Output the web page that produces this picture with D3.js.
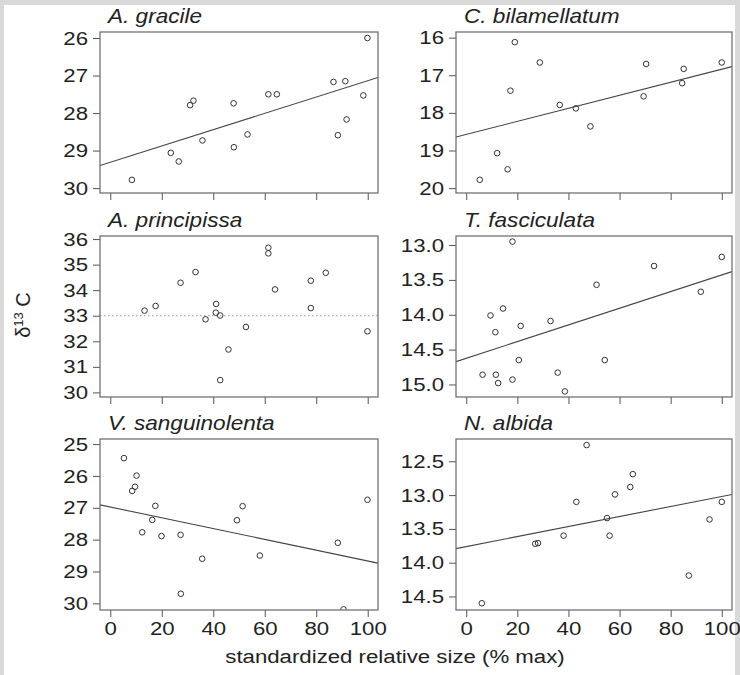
<!DOCTYPE html>
<html>
<head>
<meta charset="utf-8">
<script src="https://cdn.jsdelivr.net/npm/d3@7"></script>
<style>
  body { margin: 0; background: #d9d9d9; }
  svg { display: block; }
  text { font-family: "Liberation Sans", Arial, Helvetica, sans-serif; fill: #222; }
</style>
</head>
<body>
<svg width="740" height="675"></svg>
<script>
// species shown in each panel (row by row)
var species = ["A. gracile", "C. bilamellatum", "A. principissa", "T. fasciculata", "V. sanguinolenta", "N. albida"];

// standardized relative size (% max) and d13C per species
var graSize = [8.4, 23.5, 26.6, 31.0, 32.3, 35.8, 47.9, 48.0, 53.3, 61.4, 64.7, 86.7, 91.3, 88.4, 91.8, 98.3, 99.9];
var graD13 = [29.78, 29.06, 29.29, 27.79, 27.67, 28.73, 27.74, 28.91, 28.57, 27.50, 27.50, 27.17, 27.15, 28.59, 28.17, 27.53, 26.0];

var bilSize = [5.3, 12.1, 16.2, 17.3, 19.0, 28.8, 36.6, 42.9, 48.6, 69.4, 70.4, 85.1, 84.5, 100];
var bilD13 = [19.78, 19.07, 19.50, 17.41, 16.12, 16.66, 17.79, 17.88, 18.36, 17.56, 16.70, 16.83, 17.21, 16.66];

var priSize = [13.3, 17.6, 27.3, 33.1, 37.0, 41.1, 41.0, 42.7, 45.9, 42.7, 52.7, 61.4, 61.4, 64.0, 77.9, 83.7, 77.9, 99.9];
var priD13 = [33.20, 33.38, 34.29, 34.71, 32.86, 33.46, 33.12, 33.01, 31.68, 30.48, 32.56, 35.66, 35.44, 34.03, 34.37, 34.68, 33.30, 32.39];

var fasSize = [6.4, 9.5, 11.6, 11.4, 12.5, 14.4, 18.1, 18.1, 21.3, 20.6, 33.0, 35.8, 38.6, 51.0, 54.2, 73.5, 91.8, 100];
var fasD13 = [14.86, 14.01, 14.86, 14.25, 14.98, 13.91, 12.95, 14.93, 14.16, 14.65, 14.09, 14.83, 15.10, 13.57, 14.65, 13.30, 13.67, 13.17];

var sanSize = [5.3, 10.2, 9.6, 8.5, 17.5, 16.3, 12.4, 19.9, 27.3, 35.7, 27.4, 49.2, 51.4, 58.1, 88.4, 90.6, 99.9];
var sanD13 = [25.44, 25.99, 26.34, 26.47, 26.94, 27.38, 27.77, 27.89, 27.85, 28.60, 29.70, 27.39, 26.95, 28.50, 28.10, 30.19, 26.75];

var albSize = [6.1, 27.0, 28.1, 38.1, 43.1, 47.1, 55.1, 56.1, 58.2, 64.2, 65.2, 87.1, 95.2, 100];
var albD13 = [14.60, 13.72, 13.71, 13.60, 13.10, 12.26, 13.34, 13.60, 12.99, 12.88, 12.69, 14.19, 13.36, 13.10];

var sizes = [graSize, bilSize, priSize, fasSize, sanSize, albSize];
var d13s = [graD13, bilD13, priD13, fasD13, sanD13, albD13];

// fitted lines (null = no fit, dotted reference instead)
var fitIntercept = [29.31, 18.574, null, 14.625, 26.976, 13.762];
var fitSlope = [-0.0217, -0.01735, null, -0.01197, 0.01694, -0.00742];
var refLine = 33;

// axis settings
var yTicks = [[26, 27, 28, 29, 30], [16, 17, 18, 19, 20], [30, 31, 32, 33, 34, 35, 36],
              [13, 13.5, 14, 14.5, 15], [25, 26, 27, 28, 29, 30], [12.5, 13, 13.5, 14, 14.5]];
var yTop = [25.84, 15.85, 36.12, 12.87, 24.84, 12.17];
var yBottom = [30.13, 20.13, 29.82, 15.18, 30.21, 14.70];
var yFormat = ["d", "d", "d", ".1f", "d", ".1f"];
var xTicks = [0, 20, 40, 60, 80, 100];
var xDomain = [-4, 104];

var svg = d3.select("svg");
var sx = 1.17;   // text in the picture is a bit wide
var fs = 19;

var colX = [[100, 378], [456, 732]];
var rowY = [[32, 193], [236, 397], [439, 610]];

svg.append("rect")
    .attr("x", 4).attr("y", 5)
    .attr("width", 731).attr("height", 670)
    .attr("fill", "#fff");

function stext(parent, x, y, str, anchor, size, scale) {
    return parent.append("text")
        .attr("transform", "translate(" + x + "," + y + ") scale(" + (scale || sx) + ",1)")
        .attr("text-anchor", anchor)
        .style("font-size", (size || fs) + "px")
        .text(str);
}

species.forEach(function(name, i) {
    var c = i % 2, r = Math.floor(i / 2);
    var x0 = colX[c][0], x1 = colX[c][1], y0 = rowY[r][0], y1 = rowY[r][1];

    var x = d3.scaleLinear().domain(xDomain).range([x0, x1]);
    var y = d3.scaleLinear().domain([yTop[i], yBottom[i]]).range([y0, y1]);

    var g = svg.append("g");

    g.append("clipPath").attr("id", "clip" + i)
      .append("rect")
        .attr("x", x0).attr("y", y0)
        .attr("width", x1 - x0).attr("height", y1 - y0);

    // y axis
    var ya = g.append("g")
        .attr("transform", "translate(" + x0 + ",0)")
        .call(d3.axisLeft(y).tickValues(yTicks[i]).tickSize(7).tickFormat(d3.format(yFormat[i])));
    ya.select(".domain").remove();
    ya.selectAll(".tick line").attr("stroke", "#555");
    ya.selectAll(".tick text")
        .attr("x", -12 / sx)
        .attr("transform", "scale(" + sx + ",1)")
        .style("font-size", fs + "px")
        .style("font-family", "Liberation Sans, Arial, sans-serif")
        .attr("fill", "#222");

    // x axis (labels only on bottom row)
    var xa = g.append("g")
        .attr("transform", "translate(0," + y1 + ")")
        .call(d3.axisBottom(x).tickValues(xTicks).tickSize(7).tickPadding(4.5)
            .tickFormat(r === 2 ? d3.format("d") : function() { return ""; }));
    xa.select(".domain").remove();
    xa.selectAll(".tick line").attr("stroke", "#555");
    xa.selectAll(".tick text")
        .attr("transform", "scale(" + sx + ",1)")
        .style("font-size", fs + "px")
        .style("font-family", "Liberation Sans, Arial, sans-serif")
        .attr("fill", "#222");

    var plot = g.append("g").attr("clip-path", "url(#clip" + i + ")");

    if (fitIntercept[i] !== null) {
        plot.append("line")
            .attr("x1", x(xDomain[0])).attr("y1", y(fitIntercept[i] + fitSlope[i] * xDomain[0]))
            .attr("x2", x(xDomain[1])).attr("y2", y(fitIntercept[i] + fitSlope[i] * xDomain[1]))
            .attr("stroke", "#444").attr("stroke-width", 1.1);
    } else {
        plot.append("line")
            .attr("x1", x0).attr("x2", x1)
            .attr("y1", y(refLine)).attr("y2", y(refLine))
            .attr("stroke", "#999").attr("stroke-width", 1.2)
            .attr("stroke-dasharray", "1.5,2.5");
    }

    var pts = sizes[i].map(function(v, k) { return { s: v, d: d13s[i][k] }; });
    plot.selectAll("circle").data(pts).enter().append("circle")
        .attr("cx", function(d) { return x(d.s); })
        .attr("cy", function(d) { return y(d.d); })
        .attr("r", 2.8)
        .attr("fill", "none")
        .attr("stroke", "#333")
        .attr("stroke-width", 1);

    // frame
    g.append("rect")
        .attr("x", x0).attr("y", y0)
        .attr("width", x1 - x0).attr("height", y1 - y0)
        .attr("fill", "none")
        .attr("stroke", "#666").attr("stroke-width", 1.2);

    stext(g, x0 + 8, y0 - 9, name, "start", 20, 1.13).style("font-style", "italic");
});

// axis titles
stext(svg, 395, 663, "standardized relative size (% max)", "middle");

var yl = svg.append("text")
    .attr("transform", "translate(30,315) rotate(-90)")
    .attr("text-anchor", "middle")
    .style("font-size", "20px");
yl.append("tspan").text("\u03B4");
yl.append("tspan").attr("dy", -7).style("font-size", "13px").text("13");
yl.append("tspan").attr("dy", 7).text(" C");
</script>
</body>
</html>
